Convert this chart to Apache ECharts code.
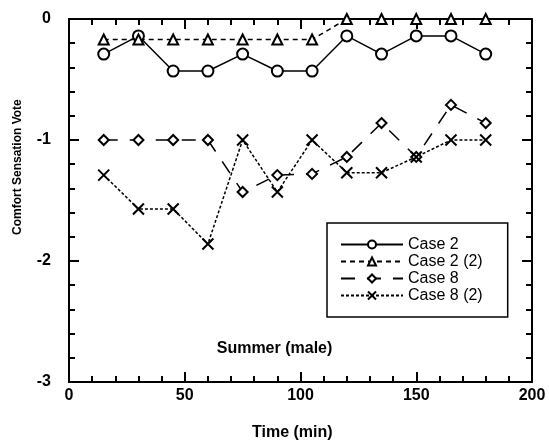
<!DOCTYPE html>
<html>
<head>
<meta charset="utf-8">
<script src="https://cdn.jsdelivr.net/npm/echarts@6/dist/echarts.min.js"></script>
<style>
  html, body { margin: 0; padding: 0; background: #fff; }
  #pic0 { width: 549px; height: 444px; }
</style>
</head>
<body>
<div id="pic0"></div>
<script>
// 时间 (min)
var times = [15, 30, 45, 60, 75, 90, 105, 120, 135, 150, 165, 180];
// comfort votes
var case2 = [-0.29, -0.14, -0.43, -0.43, -0.29, -0.43, -0.43, -0.14, -0.29, -0.14, -0.14, -0.29];
var case2b = [-0.17, -0.17, -0.17, -0.17, -0.17, -0.17, -0.17, 0, 0, 0, 0, 0];
var case8 = [-1.0, -1.0, -1.0, -1.0, -1.43, -1.29, -1.28, -1.14, -0.86, -1.14, -0.71, -0.86];
var case8b = [-1.29, -1.57, -1.57, -1.86, -1.0, -1.43, -1.0, -1.27, -1.27, -1.14, -1.0, -1.0];
var seriesNames = ['Case 2', 'Case 2 (2)', 'Case 8', 'Case 8 (2)'];
var xTicks = [0, 50, 100, 150, 200];
var yTicks = [-3, -2, -1, 0];

function pairs(ys) {
    var out = [];
    for (var i = 0; i < times.length; i++) {
        out.push([times[i], ys[i]]);
    }
    return out;
}

var xMark = 'path://M0,0L10,10M10,0L0,10';
var font = 'Liberation Sans, Arial, sans-serif';

var myChart = echarts.init(document.getElementById('pic0'));

var axisCommon = {
    axisLine: { show: true, onZero: false, lineStyle: { color: '#000', width: 2 } },
    axisTick: { show: true, inside: true, length: 10, lineStyle: { color: '#000', width: 2 } },
    minorTick: { show: true, splitNumber: 5, length: 6, lineStyle: { color: '#000', width: 2 } },
    splitLine: { show: false }
};

var option = {
    animation: false,
    backgroundColor: '#fff',
    grid: { left: 69, right: 17, top: 19, bottom: 62 },
    xAxis: [
        Object.assign({
            type: 'value', min: xTicks[0], max: xTicks[xTicks.length - 1], interval: 50,
            position: 'bottom',
            axisLabel: { color: '#000', fontFamily: font, fontWeight: 'bold', fontSize: 16, margin: 6 }
        }, axisCommon),
        Object.assign({
            type: 'value', min: xTicks[0], max: xTicks[xTicks.length - 1], interval: 50,
            position: 'top',
            axisLabel: { show: false }
        }, axisCommon)
    ],
    yAxis: [
        Object.assign({
            type: 'value', min: yTicks[0], max: yTicks[yTicks.length - 1], interval: 1,
            position: 'left',
            axisLabel: { color: '#000', fontFamily: font, fontWeight: 'bold', fontSize: 16, margin: 18 }
        }, axisCommon),
        Object.assign({
            type: 'value', min: yTicks[0], max: yTicks[yTicks.length - 1], interval: 1,
            position: 'right',
            axisLabel: { show: false }
        }, axisCommon)
    ],
    legend: {
        orient: 'vertical',
        left: 327,
        top: 223,
        data: seriesNames,
        itemWidth: 62,
        itemHeight: 10,
        itemGap: 0,
        padding: [13, 25, 13, 13],
        borderColor: '#000',
        borderWidth: 1.5,
        borderRadius: 0,
        textStyle: { color: '#000', fontFamily: font, fontSize: 16, lineHeight: 17 }
    },
    graphic: [
        {
            type: 'text', left: 'center', top: 341,
            style: { text: 'Summer (male)', fill: '#000', font: 'bold 16px Liberation Sans, Arial, sans-serif' }
        },
        {
            type: 'text', left: 252, top: 425,
            style: { text: 'Time (min)', fill: '#000', font: 'bold 16px Liberation Sans, Arial, sans-serif' }
        },
        {
            type: 'text', x: 12, y: 235, rotation: Math.PI / 2,
            style: { text: 'Comfort Sensation Vote', fill: '#000', font: 'bold 12px Liberation Sans, Arial, sans-serif' }
        }
    ],
    series: [
        {
            name: seriesNames[0], type: 'line', data: pairs(case2),
            symbol: 'emptyCircle', symbolSize: 11,
            lineStyle: { color: '#000', width: 1.5, type: 'solid' },
            itemStyle: { color: '#000', borderColor: '#000', borderWidth: 2 }
        },
        {
            name: seriesNames[1], type: 'line', data: pairs(case2b),
            symbol: 'emptyTriangle', symbolSize: 10,
            lineStyle: { color: '#000', width: 1.5, type: [5, 4] },
            itemStyle: { color: '#000', borderColor: '#000', borderWidth: 2 }
        },
        {
            name: seriesNames[2], type: 'line', data: pairs(case8),
            symbol: 'emptyDiamond', symbolSize: 10,
            lineStyle: { color: '#000', width: 1.5, type: [14, 12] },
            itemStyle: { color: '#000', borderColor: '#000', borderWidth: 2 }
        },
        {
            name: seriesNames[3], type: 'line', data: pairs(case8b),
            symbol: xMark, symbolSize: 11,
            lineStyle: { color: '#000', width: 1.5, type: [3, 2] },
            itemStyle: { color: '#000', borderColor: '#000', borderWidth: 2 }
        }
    ]
};

myChart.setOption(option);
</script>
</body>
</html>
